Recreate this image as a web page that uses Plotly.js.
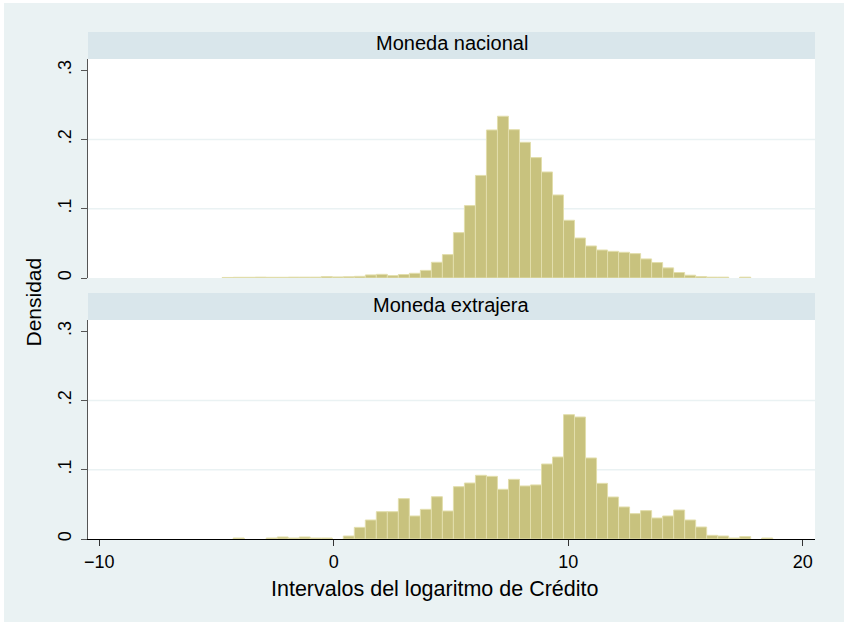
<!DOCTYPE html>
<html>
<head>
<meta charset="utf-8">
<script src="https://cdn.plot.ly/plotly-3.0.1.min.js"></script>
<style>
  html, body { margin: 0; padding: 0; background: #ffffff; }
  #chart { position: absolute; left: 4px; top: 3px; width: 840px; height: 619px; }
</style>
</head>
<body>
<div id="chart"></div>
<script>
// Histogram bins (common to both panels)
const binStart = -4.76;
const binWidth = 0.4696;

// Panel titles
const panelTitles = ["Moneda nacional", "Moneda extrajera"];

// Density per bin, 50 bins
const densNacional = [
  0.0008, 0.0010, 0.0010, 0.0012, 0.0010, 0.0010, 0.0012, 0.0012, 0.0012, 0.0020,
  0.0015, 0.0018, 0.0024, 0.0044, 0.0053, 0.0034, 0.0050, 0.0068, 0.0110, 0.0227,
  0.0338, 0.0655, 0.1045, 0.1480, 0.2136, 0.2334, 0.2140, 0.1958, 0.1737, 0.1530,
  0.1198, 0.0833, 0.0577, 0.0462, 0.0404, 0.0385, 0.0371, 0.0352, 0.0275, 0.0223,
  0.0146, 0.0079, 0.0040, 0.0020, 0.0012, 0.0012, 0, 0.0012, 0, 0
];
const densExtranjera = [
  0, 0.0014, 0, 0, 0.0014, 0.0029, 0.0014, 0.0029, 0.0014, 0.0014,
  0, 0.0043, 0.0168, 0.0274, 0.0394, 0.0394, 0.0582, 0.0332, 0.0428, 0.0610,
  0.0404, 0.0755, 0.0808, 0.0919, 0.0904, 0.0717, 0.0861, 0.0765, 0.0780, 0.1082,
  0.1183, 0.1794, 0.1760, 0.1169, 0.0803, 0.0606, 0.0462, 0.0366, 0.0409, 0.0303,
  0.0332, 0.0418, 0.0274, 0.0173, 0.0053, 0.0043, 0.0014, 0.0034, 0, 0.0014
];

// Axis ticks
const xTickVals = [-10, 0, 10, 20];
const xTickText = ["\u221210", "0", "10", "20"];
const yTickVals = [0, 0.1, 0.2, 0.3];
const yTickText = ["0", ".1", ".2", ".3"];
const yGridVals = [0.1, 0.2];

const xTitle = "Intervalos del logaritmo de Crédito";
const yTitle = "Densidad";

const centers = densNacional.map((_, k) => binStart + (k + 0.5) * binWidth);
const clean = a => a.map(v => (v === 0 ? null : v));

const barFill = "rgb(200,194,126)";
const barLine = "rgb(226,222,172)";
const bg = "#eaf2f3";
const strip = "#d9e6eb";
const font = "Liberation Sans, Arial, Helvetica, sans-serif";

const traces = [
  {
    type: "bar", x: centers, y: clean(densNacional), width: binWidth,
    xaxis: "x", yaxis: "y",
    marker: { color: barFill, line: { color: barLine, width: 1 } },
    hoverinfo: "x+y", showlegend: false
  },
  {
    type: "bar", x: centers, y: clean(densExtranjera), width: binWidth,
    xaxis: "x2", yaxis: "y2",
    marker: { color: barFill, line: { color: barLine, width: 1 } },
    hoverinfo: "x+y", showlegend: false
  }
];

const xRange = [-10.483, 20.523];
const yRange = [0, 0.316];
const topDom = [0.54375, 1];
const botDom = [0, 0.45625];
const stripH = 27 / 480;

const yAxisCommon = {
  range: yRange, tickvals: yTickVals, ticktext: yTickText, tickangle: -90,
  showgrid: false, zeroline: false, showline: true, linecolor: "#555555", linewidth: 1,
  ticks: "outside", ticklen: 6, tickcolor: "#555555", tickwidth: 1, ticklabelstandoff: 3,
  tickfont: { family: font, size: 18, color: "#000000" }, fixedrange: true
};

const shapes = [
  { type: "rect", xref: "paper", yref: "paper", x0: 0, x1: 1, y0: topDom[1], y1: topDom[1] + stripH,
    fillcolor: strip, line: { width: 0 }, layer: "below" },
  { type: "rect", xref: "paper", yref: "paper", x0: 0, x1: 1, y0: botDom[1], y1: botDom[1] + stripH,
    fillcolor: strip, line: { width: 0 }, layer: "below" }
];
yGridVals.forEach(v => {
  shapes.push({ type: "line", xref: "x domain", yref: "y", x0: 0, x1: 1, y0: v, y1: v,
    line: { color: bg, width: 1.5 }, layer: "below" });
  shapes.push({ type: "line", xref: "x2 domain", yref: "y2", x0: 0, x1: 1, y0: v, y1: v,
    line: { color: bg, width: 1.5 }, layer: "below" });
});

const layout = {
  width: 840, height: 619,
  margin: { l: 84, r: 29, t: 56, b: 83 },
  paper_bgcolor: bg, plot_bgcolor: "#ffffff",
  font: { family: font, color: "#000000" },
  showlegend: false,
  bargap: 0,
  xaxis: {
    domain: [0, 1], anchor: "y", range: xRange, showticklabels: false, ticks: "",
    showline: false, showgrid: false, zeroline: false, fixedrange: true
  },
  yaxis: Object.assign({ domain: topDom, anchor: "x" }, yAxisCommon),
  xaxis2: {
    domain: [0, 1], anchor: "y2", range: xRange, tickvals: xTickVals, ticktext: xTickText,
    showgrid: false, zeroline: false, showline: true, linecolor: "#000000", linewidth: 1,
    ticks: "outside", ticklen: 6, tickcolor: "#333333", tickwidth: 1,
    tickfont: { family: font, size: 18, color: "#000000" }, fixedrange: true
  },
  yaxis2: Object.assign({ domain: botDom, anchor: "x2" }, yAxisCommon),
  shapes: shapes,
  annotations: [
    { text: panelTitles[0], xref: "paper", yref: "paper", x: 0.5, y: 1.033,
      xanchor: "center", yanchor: "middle", showarrow: false,
      font: { family: font, size: 20, color: "#000000" } },
    { text: panelTitles[1], xref: "paper", yref: "paper", x: 0.5, y: 0.488,
      xanchor: "center", yanchor: "middle", showarrow: false,
      font: { family: font, size: 20, color: "#000000" } },
    { text: xTitle, xref: "paper", yref: "paper", x: 0.4773, y: -0.104,
      xanchor: "center", yanchor: "middle", showarrow: false,
      font: { family: font, size: 21.5, color: "#000000" } },
    { text: yTitle, xref: "paper", yref: "paper", x: 0, xshift: -54, y: 0.4927,
      xanchor: "center", yanchor: "middle", textangle: -90, showarrow: false,
      font: { family: font, size: 21, color: "#000000" } }
  ]
};

Plotly.newPlot("chart", traces, layout, { displayModeBar: false, staticPlot: true });
</script>
</body>
</html>
